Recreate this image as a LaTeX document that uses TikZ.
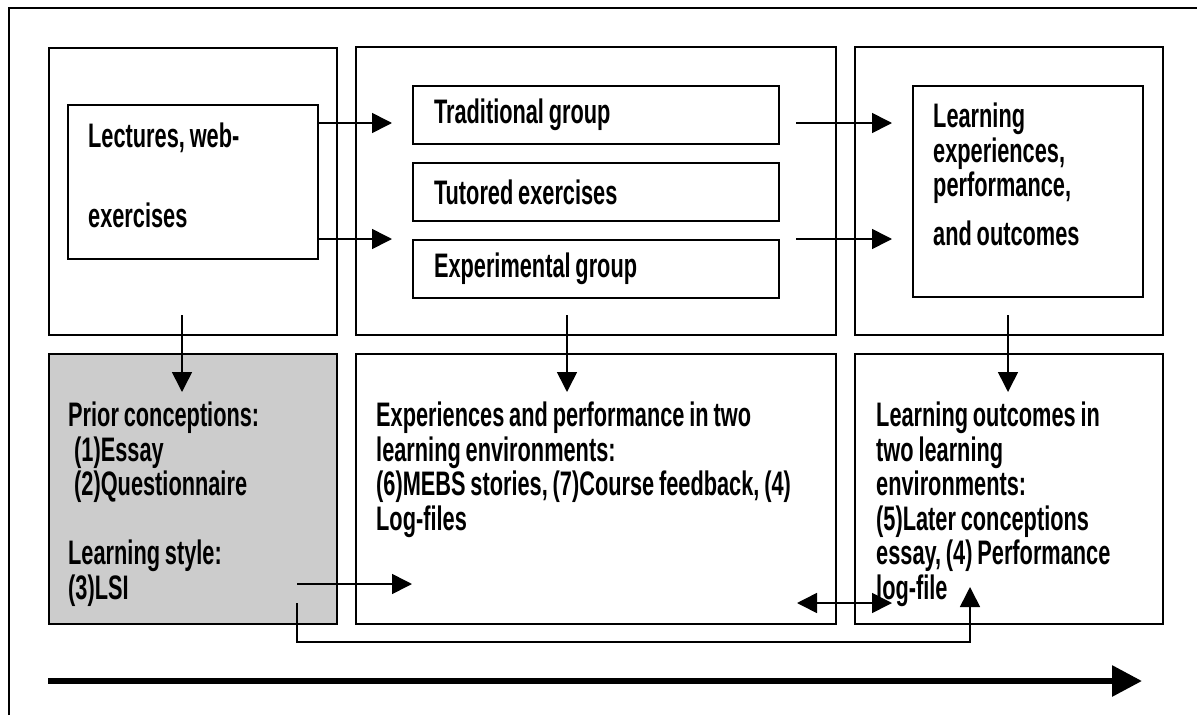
\documentclass[tikz,border=0pt]{standalone}
\usepackage{fontspec}
\setmainfont{Liberation Sans}[FakeStretch=0.64,WordSpace=0.8]
\usetikzlibrary{arrows.meta}
\definecolor{boxgray}{HTML}{CCCCCC}
\begin{document}
\begin{tikzpicture}[x=1pt,y=-1pt,
  frame/.style={draw, line width=2pt, rectangle, inner sep=0pt, anchor=north west},
  grp/.style={frame, minimum height=58pt, text width=324pt, inner xsep=21pt, inner ysep=0pt, align=left, font=\fontsize{34}{34.5}\selectfont\bfseries, execute at begin node={\spaceskip=0pt\xspaceskip=0pt\relax}},
  txt/.style={anchor=north west, inner sep=0pt, align=left, font=\fontsize{34}{34.5}\selectfont\bfseries, execute at begin node={\spaceskip=0pt\xspaceskip=0pt\relax}},
  conn/.style={line width=1.6pt, -{Triangle[length=20pt,width=20pt]}},
  dconn/.style={line width=1.6pt, {Triangle[length=20pt,width=20pt]}-{Triangle[length=20pt,width=20pt]}},
  bigarrow/.style={line width=6pt, -{Triangle[length=30pt,width=30pt]}}
]
\useasboundingbox (0,0) rectangle (1197,715);
% outer frame (left and top edges only)
\draw[line width=1.3pt] (9,715) -- (9,8) -- (1197,8);

% top row
\node[frame, minimum width=288pt, minimum height=287pt] (lcol) at (48,47) {};
\node[frame, minimum width=250pt, minimum height=154pt] (lect) at (67,104) {};
\node[txt] (lecttxt) at (88,123) {Lectures, web-\\[45.5pt]exercises};

\node[frame, minimum width=480pt, minimum height=288pt] (mcol) at (355,46) {};
\node[grp] (trad) at (412,85) {Traditional group};
\node[grp] (tut) at (412,162) {Tutored exercises};
\node[grp] (expg) at (412,239) {Experimental group};

\node[frame, minimum width=308pt, minimum height=288pt] (rcol) at (854,46) {};
\node[frame, minimum width=230pt, minimum height=211pt] (learn) at (912,85) {};
\node[txt] (learntxt) at (933,103) {Learning\\experiences,\\performance,\\[14pt]and outcomes};

% bottom row
\node[frame, fill=boxgray, minimum width=288pt, minimum height=270pt] (prior) at (48,353) {};
\node[frame, minimum width=480pt, minimum height=270pt] (exper) at (355,353) {};
\node[frame, minimum width=308pt, minimum height=270pt] (outc) at (854,353) {};

\node[txt] (priortxt) at (68,402) {Prior conceptions:\\\hspace{6pt}(1)Essay\\\hspace{6pt}(2)Questionnaire\\[34.5pt]Learning style:\\(3)LSI};
\node[txt] (expertxt) at (376,402) {Experiences and performance in two\\learning environments:\\(6)MEBS stories, (7)Course feedback, (4)\\Log-files};
\node[txt] (outctxt) at (876,402) {Learning outcomes in\\two learning\\environments:\\(5)Later conceptions\\essay, (4) Performance\\log-file};

% connector end points
\coordinate (t1) at (392,123);
\coordinate (t2) at (392,239);
\coordinate (s3) at (796,123);
\coordinate (t3) at (892,123);
\coordinate (s4) at (796,239);
\coordinate (t4) at (892,239);
\coordinate (d1s) at (182,315);
\coordinate (d1e) at (182,392);
\coordinate (d2s) at (567,315);
\coordinate (d2e) at (567,392);
\coordinate (d3s) at (1008,315);
\coordinate (d3e) at (1008,392);
\coordinate (lsis) at (297,584);
\coordinate (lsie) at (412,584);
\coordinate (bs) at (297,603);
\coordinate (bc1) at (297,642);
\coordinate (bc2) at (970,642);
\coordinate (be) at (970,587);
\coordinate (ds) at (797,603);
\coordinate (de) at (892,603);
\coordinate (ts) at (48,681);
\coordinate (te) at (1142,681);

% connectors
\draw[conn] (lect.east |- t1) -- (t1);
\draw[conn] (lect.east |- t2) -- (t2);
\draw[conn] (s3) -- (t3);
\draw[conn] (s4) -- (t4);
\draw[conn] (d1s) -- (d1e);
\draw[conn] (d2s) -- (d2e);
\draw[conn] (d3s) -- (d3e);
\draw[conn] (lsis) -- (lsie);
\draw[conn] (bs) -- (bc1) -- (bc2) -- (be);
\draw[dconn] (ds) -- (de);
\draw[bigarrow] (ts) -- (te);
\end{tikzpicture}
\end{document}
